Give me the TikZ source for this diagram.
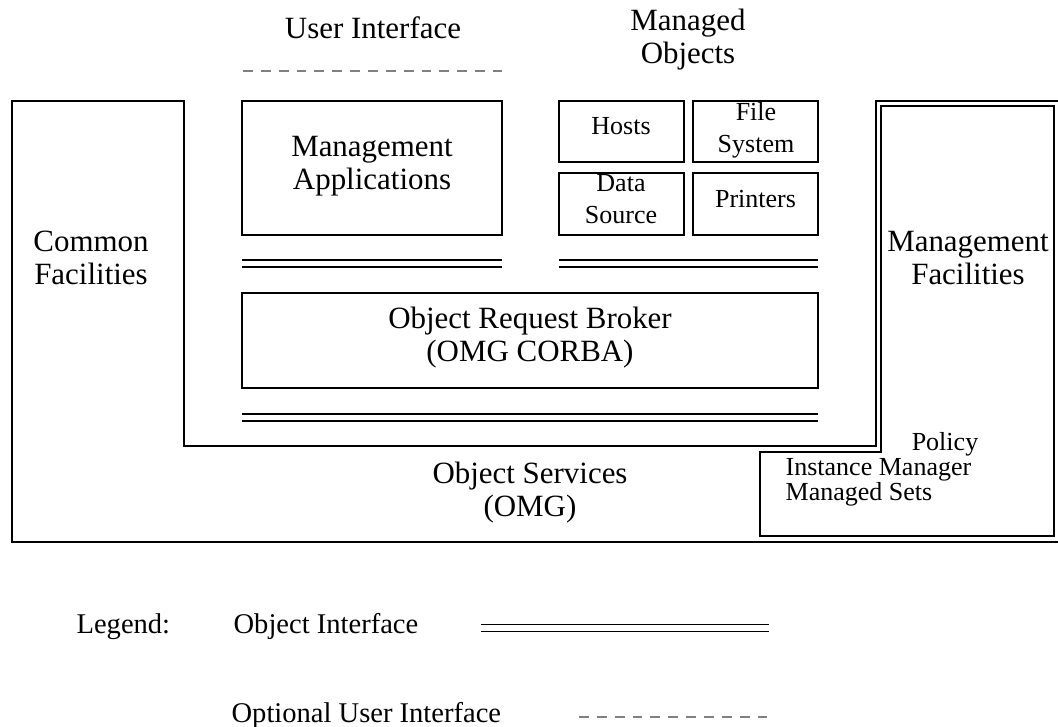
\documentclass[tikz,border=0pt]{standalone}
\usepackage{fontspec}
\setmainfont{Liberation Serif}
\begin{document}
\begin{tikzpicture}[x=0.025cm,y=-0.025cm,line width=0.9pt,
 big/.style={font=\fontsize{22}{23.5}\selectfont,align=center,inner sep=0pt},
 small/.style={font=\fontsize{18.5}{23}\selectfont,align=center,inner sep=0pt},
 legendtext/.style={font=\fontsize{20.3}{24}\selectfont,inner sep=0pt},
 objif/.style={double,double distance=4.1pt},
 userif/.style={gray,line width=1pt,dash pattern=on 7pt off 5.7pt}]
 \useasboundingbox (0,0) rectangle (1058,727);
 \clip (0,0) rectangle (1058,727);
 \draw (12,101)--(184,101)--(184,446)--(876,446)--(876,101)--(1064,101)--(1064,542)--(12,542)--cycle;
 \draw (881,106)--(1054,106)--(1054,536)--(760,536)--(760,452)--(881,452)--cycle;
 \draw (242,101) rectangle (502,235);
 \draw (559,101) rectangle (684,162);
 \draw (693,101) rectangle (818,162);
 \draw (559,173) rectangle (684,235);
 \draw (693,173) rectangle (818,235);
 \draw (242,293) rectangle (818,388);
 \draw[objif] (242,263.5)--(502,263.5);
 \draw[objif] (559,263.5)--(818,263.5);
 \draw[objif] (242,417.5)--(818,417.5);
 \draw[userif] (243,71)--(502,71);
 \node[big,anchor=base] (ui) at (373,39) {User Interface};
 \node[big] (mo) at (688,40) {Managed\\Objects};
 \node[big] (ma) at (372,166) {Management\\Applications};
 \node[small,anchor=base] (hosts) at (621,135) {Hosts};
 \node[small] (fs) at (756,130) {File\\System};
 \node[small] (ds) at (621,199) {Data\\Source};
 \node[small,anchor=base] (prn) at (755.5,208) {Printers};
 \node[big] (orb) at (530,338) {Object Request Broker\\(OMG CORBA)};
 \node[big] (cf) at (91,258) {Common\\Facilities};
 \node[big] (mf) at (968,258) {Management\\Facilities};
 \node[big] (os) at (530,493) {Object Services\\(OMG)};
 \node[small,anchor=base] (policy) at (945,450) {Policy};
 \node[small,anchor=base west] (im) at (785,475) {Instance Manager};
 \node[small,anchor=base west] (ms) at (785,500) {Managed Sets};
 \node[legendtext,anchor=base west] (legend) at (76,633) {Legend:};
 \node[legendtext,anchor=base west] (legobj) at (233,633) {Object Interface};
 \node[legendtext,anchor=base west] (legopt) at (231,722) {Optional User Interface};
 \draw[objif] (481,628)--(769,628);
 \draw[userif] (579,717)--(769,717);
\end{tikzpicture}
\end{document}
